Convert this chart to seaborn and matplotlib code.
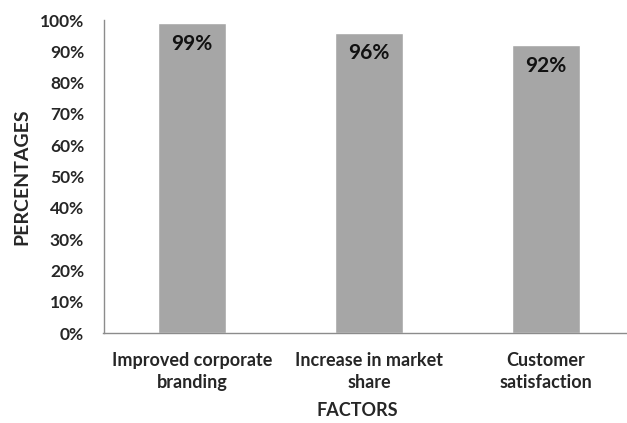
import matplotlib
matplotlib.use("Agg")
import matplotlib.pyplot as plt
import seaborn as sns
import pandas as pd

categories = ["Improved corporate\nbranding", "Increase in market\nshare", "Customer\nsatisfaction"]
values = [99, 96, 92]
value_labels = ["99%", "96%", "92%"]
y_ticks = [0, 10, 20, 30, 40, 50, 60, 70, 80, 90, 100]

sns.set_theme(style="white")
plt.rcParams["font.family"] = ["Lato", "DejaVu Sans"]

df = pd.DataFrame({"factor": categories, "pct": values})

fig = plt.figure(figsize=(6.27, 4.23), dpi=100)
ax = fig.add_axes([103.5 / 627, 1 - 333 / 423, (627 - 103.5) / 627, (333 - 20) / 423])
sns.barplot(data=df, x="factor", y="pct", color="#A6A6A6", width=0.38, ax=ax, saturation=1)
ax.set_xlim(-0.5, 2.458)
ax.set_ylim(0, 100)
ax.set_yticks(y_ticks)
ax.set_yticklabels([f"{t}%" for t in y_ticks], fontsize=12.5, fontweight="bold")
ax.set_xticklabels(categories, fontsize=13, fontweight="bold", linespacing=1.3)
ax.tick_params(axis="x", pad=14, length=0)
ax.tick_params(axis="y", pad=14, length=0)
for i, (v, lab) in enumerate(zip(values, value_labels)):
    ax.text(i, v - 6.7, lab, ha="center", va="center", fontsize=15, fontweight="bold", color="#111111")
for s in ["top", "right"]:
    ax.spines[s].set_visible(False)
for s in ["left", "bottom"]:
    ax.spines[s].set_color("#8c8c8c")
    ax.spines[s].set_linewidth(1)
ax.set_xlabel("FACTORS", fontsize=13, fontweight="bold")
ax.set_ylabel("PERCENTAGES", fontsize=14, fontweight="bold")
ax.xaxis.set_label_coords((357 - 103.5) / (627 - 103.5), -(410 - 333) / 313, transform=ax.transAxes)
ax.xaxis.label.set_va("center")
ax.yaxis.set_label_coords(-(103.5 - 22) / (627 - 103.5), (333 - 177) / 313, transform=ax.transAxes)
ax.yaxis.label.set_va("center")
fig.savefig("out.png", dpi=100)
